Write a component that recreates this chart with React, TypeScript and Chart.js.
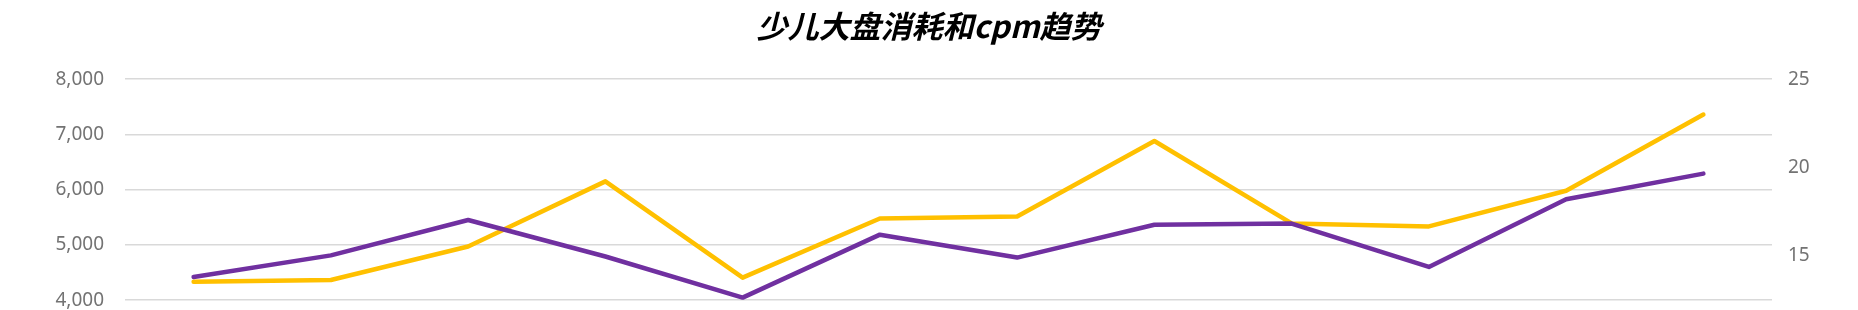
import { useEffect, useRef } from 'react';
import { Chart, registerables } from 'chart.js';

Chart.register(...registerables);

const titleText = '少儿大盘消耗和cpm趋势';
const categories = ['1月', '2月', '3月', '4月', '5月', '6月', '7月', '8月', '9月', '10月', '11月', '12月'];
const consumption = [4420, 4810, 5450, 4790, 4045, 5185, 4770, 5365, 5385, 4600, 5825, 6290];
const cpm = [13.54, 13.64, 15.53, 19.22, 13.77, 17.12, 17.23, 21.5, 16.84, 16.67, 18.69, 23.0];
const leftAxis = { min: 0, max: 8000, step: 1000 };
const rightAxis = { min: 0, max: 25, step: 5 };

export default function App() {
  const ref = useRef<HTMLCanvasElement | null>(null);

  useEffect(() => {
    document.documentElement.style.overflow = 'hidden';
    const canvas = ref.current;
    if (!canvas) return;
    const tickFont = { family: '"Noto Sans", sans-serif', size: 19 };
    const chart = new Chart(canvas, {
      type: 'line',
      data: {
        labels: categories,
        datasets: [
          {
            label: '消耗',
            data: consumption,
            yAxisID: 'y',
            borderColor: '#7030A0',
            backgroundColor: '#7030A0',
            borderWidth: 4.5,
            pointRadius: 0,
            tension: 0,
            borderCapStyle: 'round',
            borderJoinStyle: 'round',
          },
          {
            label: 'cpm',
            data: cpm,
            yAxisID: 'y1',
            borderColor: '#FFC000',
            backgroundColor: '#FFC000',
            borderWidth: 4.5,
            pointRadius: 0,
            tension: 0,
            borderCapStyle: 'round',
            borderJoinStyle: 'round',
          },
        ],
      },
      options: {
        responsive: false,
        animation: false,
        devicePixelRatio: 1,
        layout: { padding: { left: 0, right: 0, top: 0, bottom: 47 } },
        plugins: {
          legend: { display: false },
          tooltip: { enabled: false },
          title: {
            display: true,
            text: titleText,
            color: '#000000',
            font: { family: '"Noto Sans CJK SC", sans-serif', size: 31, weight: 'bold', style: 'italic' },
            padding: { top: 0, bottom: 34 },
          },
        },
        scales: {
          x: {
            type: 'category',
            offset: true,
            display: false,
            grid: { display: false },
          },
          y: {
            type: 'linear',
            position: 'left',
            min: leftAxis.min,
            max: leftAxis.max,
            ticks: { stepSize: leftAxis.step, color: '#737373', font: tickFont, padding: 21 },
            grid: { color: '#d9d9d9', lineWidth: 1.5, drawTicks: false },
            border: { display: false },
            afterFit: (scale: any) => { scale.width = 117; },
          },
          y1: {
            type: 'linear',
            position: 'right',
            min: rightAxis.min,
            max: rightAxis.max,
            ticks: { stepSize: rightAxis.step, color: '#737373', font: tickFont, padding: 16 },
            grid: { display: false, drawTicks: false },
            border: { display: false },
            afterFit: (scale: any) => { scale.width = 78; },
          },
        },
      },
    } as any);
    return () => chart.destroy();
  }, []);

  return (
    <div style={{ width: 1842, height: 302, overflow: 'hidden' }}>
      <canvas ref={ref} width={1842} height={560} style={{ display: 'block', width: 1842, height: 560 }} />
    </div>
  );
}
